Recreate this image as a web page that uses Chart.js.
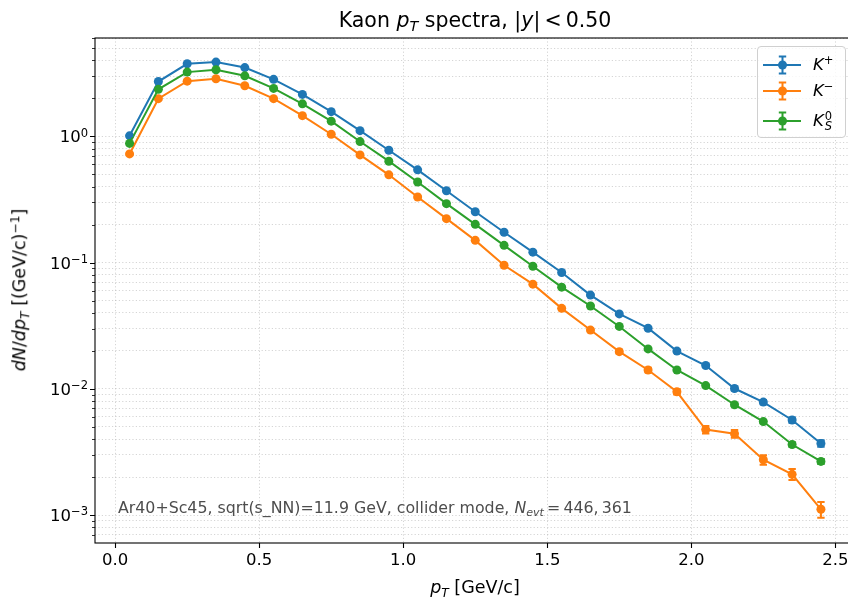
<!DOCTYPE html>
<html>
<head>
<meta charset="utf-8">
<script src="https://cdn.jsdelivr.net/npm/chart.js@4.4.0/dist/chart.umd.min.js"></script>
<style>
html, body { margin:0; padding:0; background:#fff; overflow:hidden; }
#wrap { position:relative; width:860px; height:601px; font-family:"DejaVu Sans", sans-serif; color:#000; }
#grafico { position:absolute; left:0; top:0; }
.txt { position:absolute; white-space:nowrap; line-height:1; font-size:16.5px; }
sub, sup { font-size:70%; line-height:0; position:relative; vertical-align:baseline; }
sup { top:-0.5em; }
sub { top:0.3em; }
#legenda { position:absolute; left:757px; top:46px; width:89px; height:92px; box-sizing:border-box;
  border:1px solid #d0d0d0; border-radius:4px; background:rgba(255,255,255,0.8); }
.item { position:absolute; left:0; width:89px; height:24px; }
.item svg { position:absolute; left:4px; top:0; }
.item .lbl { position:absolute; left:55px; top:50%; transform:translateY(-50%); font-size:16.5px; line-height:1; white-space:nowrap; }
.ss { display:inline-block; vertical-align:middle; font-size:11.5px; line-height:10px; margin-left:1px; text-align:left; }
.ss span { display:block; }
</style>
</head>
<body>
<div id="wrap">
  <canvas id="grafico" width="860" height="601"></canvas>
  <div class="txt" style="left:475px; top:20px; transform:translate(-50%,-50%); font-size:20.5px;">Kaon <i>p</i><sub><i>T</i></sub> spectra, |<i>y</i>|&thinsp;&lt;&thinsp;0.50</div>
  <div class="txt" style="left:475px; top:588px; transform:translate(-50%,-50%); font-size:17.5px;"><i>p</i><sub><i>T</i></sub> [GeV/c]</div>
  <div class="txt" style="left:20px; top:290px; transform:translate(-50%,-50%) rotate(-90deg); font-size:17.5px;"><i>dN</i>/<i>dp</i><sub><i>T</i></sub> [(GeV/c)<sup>−1</sup>]</div>
  <div class="txt" style="left:118px; top:508px; transform:translateY(-50%); color:#4d4d4d; font-size:15.8px;">Ar40+Sc45, sqrt(s_NN)=11.9 GeV, collider mode, <i>N</i><sub><i>evt</i></sub>&thinsp;=&thinsp;446,&thinsp;361</div>
  <div id="legenda"></div>
</div>
<script>
// p_T bin centres [GeV/c]
var pt = [0.05, 0.15, 0.25, 0.35, 0.45, 0.55, 0.65, 0.75, 0.85, 0.95, 1.05, 1.15, 1.25,
          1.35, 1.45, 1.55, 1.65, 1.75, 1.85, 1.95, 2.05, 2.15, 2.25, 2.35, 2.45];

var kPlus = [1.01, 2.72, 3.76, 3.88, 3.51, 2.83, 2.15, 1.57, 1.11, 0.776, 0.543, 0.371, 0.253,
             0.174, 0.121, 0.0834, 0.0553, 0.0392, 0.0302, 0.0199, 0.0153, 0.01005, 0.00785, 0.00566, 0.00369];
var kPlusErr = [0.0037, 0.0060, 0.0071, 0.0072, 0.0068, 0.0061, 0.0054, 0.0046, 0.0038, 0.0032, 0.0027, 0.0022, 0.0018,
                0.0015, 0.0013, 0.0011, 0.00086, 0.00072, 0.00063, 0.00051, 0.00045, 0.00037, 0.00032, 0.00027, 0.00022];

var kMinus = [0.726, 1.99, 2.74, 2.86, 2.52, 1.99, 1.46, 1.04, 0.713, 0.496, 0.331, 0.223, 0.150,
              0.0953, 0.0675, 0.0434, 0.0292, 0.0197, 0.0141, 0.00947, 0.00475, 0.00440, 0.00274, 0.00210, 0.00111];
var kMinusErr = [0.0040, 0.0066, 0.0077, 0.0079, 0.0074, 0.0066, 0.0056, 0.0048, 0.0039, 0.0033, 0.0027, 0.0022, 0.0018,
                 0.0014, 0.0012, 0.00097, 0.00080, 0.00065, 0.00055, 0.00045, 0.00032, 0.00031, 0.00024, 0.00021, 0.00016];

var kShort = [0.88, 2.36, 3.23, 3.37, 3.02, 2.40, 1.81, 1.32, 0.91, 0.636, 0.435, 0.293, 0.201,
              0.137, 0.0935, 0.0639, 0.0453, 0.0312, 0.0207, 0.0141, 0.0106, 0.00748, 0.00550, 0.00362, 0.00266];
var kShortErr = [0.0022, 0.0036, 0.0042, 0.0043, 0.0040, 0.0036, 0.0031, 0.0027, 0.0022, 0.0019, 0.0015, 0.0013, 0.0010,
                 0.00086, 0.00071, 0.00059, 0.00050, 0.00041, 0.00034, 0.00028, 0.00024, 0.00020, 0.00017, 0.00014, 0.00012];

var xTicks = [0.0, 0.5, 1.0, 1.5, 2.0, 2.5];
var yMajor = [0.001, 0.01, 0.1, 1];
var yExpo = ['−3', '−2', '−1', '0'];
var yMinorSteps = [1, 2, 3, 4, 5, 6, 7, 8, 9];

var cores = ['#1f77b4', '#ff7f0e', '#2ca02c'];
var Y_MIN = 6.35e-4, Y_MAX = 6.02;

function pontos(xs, ys){
    var d = [];
    for(var i=0;i<xs.length;i++){
        d.push({x: xs[i], y: ys[i]});
    }
    return d;
}

function serie(nome, ys, errs, cor, ordem){
    return {
        label: nome,
        data: pontos(pt, ys),
        erros: errs,
        borderColor: cor,
        backgroundColor: cor,
        pointBackgroundColor: cor,
        pointBorderColor: cor,
        pointBorderWidth: 0,
        pointRadius: 4.5,
        borderWidth: 2,
        tension: 0,
        fill: false,
        order: ordem
    };
}

// all 1..9 x 10^k values inside the y range
var yTicks = [];
for(var e=-4;e<=0;e++){
    for(var k=0;k<yMinorSteps.length;k++){
        var v = yMinorSteps[k]*Math.pow(10, e);
        if(v >= Y_MIN && v <= Y_MAX) yTicks.push(v);
    }
}

var barrasErro = {
    id: 'barrasErro',
    afterDatasetsDraw: function(chart){
        var ctx = chart.ctx, xs = chart.scales.x, ys = chart.scales.y, a = chart.chartArea;
        ctx.save();
        ctx.beginPath();
        ctx.rect(a.left, a.top, a.right - a.left, a.bottom - a.top);
        ctx.clip();
        chart.data.datasets.forEach(function(ds){
            ctx.strokeStyle = ds.borderColor;
            ctx.lineWidth = 2;
            for(var i=0;i<ds.data.length;i++){
                var x = xs.getPixelForValue(ds.data[i].x);
                var y1 = ys.getPixelForValue(ds.data[i].y + ds.erros[i]);
                var y2 = ys.getPixelForValue(ds.data[i].y - ds.erros[i]);
                ctx.beginPath();
                ctx.moveTo(x, y1); ctx.lineTo(x, y2);
                ctx.moveTo(x - 3.7, y1); ctx.lineTo(x + 3.7, y1);
                ctx.moveTo(x - 3.7, y2); ctx.lineTo(x + 3.7, y2);
                ctx.stroke();
            }
        });
        ctx.restore();
    }
};

var moldura = {
    id: 'moldura',
    afterDraw: function(chart){
        var ctx = chart.ctx, a = chart.chartArea, xs = chart.scales.x, ys = chart.scales.y;
        ctx.save();
        ctx.strokeStyle = '#000';
        ctx.lineWidth = 1.1;
        ctx.strokeRect(a.left, a.top, a.right - a.left, a.bottom - a.top);
        ctx.beginPath();
        for(var i=0;i<xTicks.length;i++){
            var x = Math.round(xs.getPixelForValue(xTicks[i])) + 0.5;
            ctx.moveTo(x, a.bottom); ctx.lineTo(x, a.bottom + 5);
        }
        for(var j=0;j<yMajor.length;j++){
            var y = Math.round(ys.getPixelForValue(yMajor[j])) + 0.5;
            ctx.moveTo(a.left, y); ctx.lineTo(a.left - 5, y);
        }
        ctx.stroke();
        ctx.lineWidth = 0.8;
        ctx.beginPath();
        for(var k=0;k<yTicks.length;k++){
            if(yMajor.indexOf(yTicks[k]) >= 0) continue;
            var ym = Math.round(ys.getPixelForValue(yTicks[k])) + 0.5;
            ctx.moveTo(a.left, ym); ctx.lineTo(a.left - 3, ym);
        }
        ctx.stroke();
        ctx.restore();
    }
};

var corGrade = 'rgba(150,150,150,0.5)';

var grafico = new Chart(document.getElementById('grafico'), {
    type: 'line',
    data: {
        datasets: [
            serie('K+', kPlus, kPlusErr, cores[0], 2),
            serie('K-', kMinus, kMinusErr, cores[1], 1),
            serie('K0S', kShort, kShortErr, cores[2], 0)
        ]
    },
    options: {
        responsive: false,
        animation: false,
        layout: { padding: { left: 95, top: 38, right: 4, bottom: 58 } },
        plugins: { legend: { display: false }, tooltip: { enabled: false }, title: { display: false } },
        scales: {
            x: {
                type: 'linear', min: -0.07, max: 2.57,
                afterBuildTicks: function(s){ s.ticks = xTicks.map(function(v){ return {value: v}; }); },
                ticks: { display: false },
                grid: { drawTicks: false, color: corGrade, lineWidth: 0.8 },
                border: { display: false, dash: [1.2, 2.2] }
            },
            y: {
                type: 'logarithmic', min: Y_MIN, max: Y_MAX,
                afterBuildTicks: function(s){ s.ticks = yTicks.map(function(v){ return {value: v}; }); },
                ticks: { display: false },
                grid: { drawTicks: false, color: corGrade, lineWidth: 0.8 },
                border: { display: false, dash: [1.2, 2.2] }
            }
        }
    },
    plugins: [barrasErro, moldura]
});

// tick labels as text, placed with the chart's scales
var wrap = document.getElementById('wrap');
var sx = grafico.scales.x, sy = grafico.scales.y;
for(var i=0;i<xTicks.length;i++){
    var d = document.createElement('div');
    d.className = 'txt';
    d.style.left = sx.getPixelForValue(xTicks[i]) + 'px';
    d.style.top = (grafico.chartArea.bottom + 9) + 'px';
    d.style.transform = 'translateX(-50%)';
    d.textContent = xTicks[i].toFixed(1);
    wrap.appendChild(d);
}
for(var j=0;j<yMajor.length;j++){
    var t = document.createElement('div');
    t.className = 'txt';
    t.style.left = '88px';
    t.style.top = (sy.getPixelForValue(yMajor[j]) + 1) + 'px';
    t.style.transform = 'translate(-100%,-50%)';
    t.innerHTML = '10<sup>' + yExpo[j] + '</sup>';
    wrap.appendChild(t);
}

// legend
var legenda = document.getElementById('legenda');
var nomes = ['<i>K</i><sup>+</sup>', '<i>K</i><sup>−</sup>',
             '<i>K</i><span class="ss"><span>0</span><span><i>S</i></span></span>'];
var linhas = [6, 32, 62];
for(var n=0;n<3;n++){
    var it = document.createElement('div');
    it.className = 'item';
    it.style.top = linhas[n] + 'px';
    var c = cores[n];
    it.innerHTML = '<svg width="42" height="24" viewBox="0 0 42 24">' +
        '<line x1="1" y1="12" x2="39" y2="12" stroke="' + c + '" stroke-width="2"/>' +
        '<line x1="20.5" y1="3.5" x2="20.5" y2="20.5" stroke="' + c + '" stroke-width="2"/>' +
        '<line x1="16.8" y1="3.5" x2="24.2" y2="3.5" stroke="' + c + '" stroke-width="2"/>' +
        '<line x1="16.8" y1="20.5" x2="24.2" y2="20.5" stroke="' + c + '" stroke-width="2"/>' +
        '<circle cx="20.5" cy="12" r="4.5" fill="' + c + '"/></svg>' +
        '<div class="lbl">' + nomes[n] + '</div>';
    legenda.appendChild(it);
}
</script>
</body>
</html>
